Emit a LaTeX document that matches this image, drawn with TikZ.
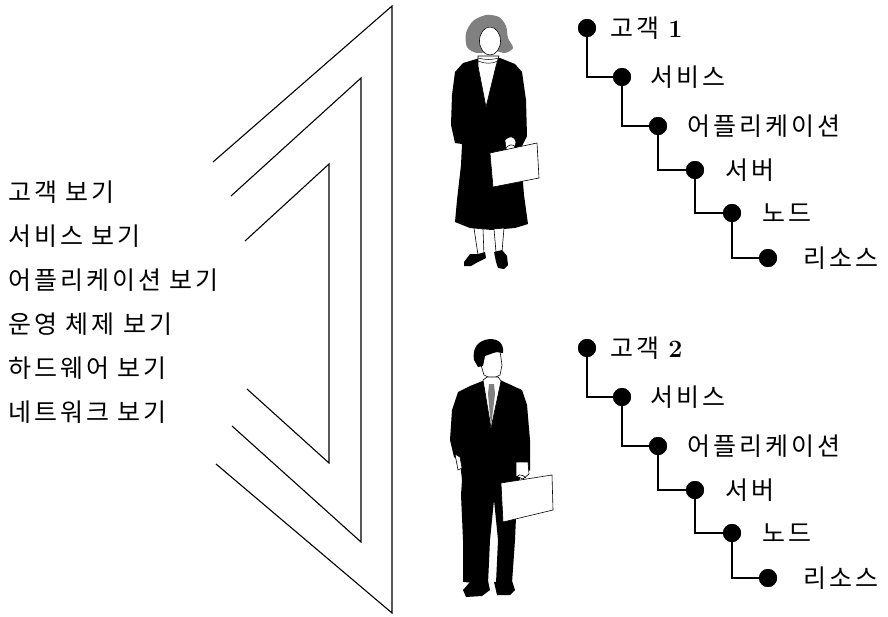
\documentclass[tikz,border=0pt]{standalone}
\usepackage{fontspec}
\newfontfamily\krfont[LetterSpace=12]{Noto Sans CJK KR}
\begin{document}
\begin{tikzpicture}[x=1pt,y=-1pt,
  viewlabel/.style={anchor=west,inner sep=0pt,font=\krfont\fontsize{25}{25}\selectfont},
  treedot/.style={circle,fill=black,minimum size=18pt,inner sep=0pt},
  treelabel/.style={anchor=west,inner sep=0pt,font=\krfont\fontsize{25}{25}\selectfont},
  treelink/.style={line width=2.6pt},
  frameline/.style={line width=1.1pt,line join=miter},
  outline/.style={draw=black,line width=0.6pt,fill=white},
  hairgray/.style={fill=black!50},
]
\useasboundingbox (0,0) rectangle (888,616);

% nested view brackets
\draw[frameline] (213,162) -- (392,6) -- (392,613) -- (216,464);
\draw[frameline] (231,196) -- (361,78) -- (361,542) -- (232,426);
\draw[frameline] (245,241) -- (329,164) -- (329,463) -- (247,389);

% view labels
\node[viewlabel] (v1) at (8,192) {고객 보기};
\node[viewlabel] (v2) at (8,236) {서비스 보기};
\node[viewlabel] (v3) at (8,280) {어플리케이션 보기};
\node[viewlabel] (v4) at (8,324) {운영 체제 보기};
\node[viewlabel] (v5) at (8,368) {하드웨어 보기};
\node[viewlabel] (v6) at (8,412) {네트워크 보기};

% customer trees
\foreach \t/\dy/\num in {a/0/1, b/320/2} {
  \node[treedot] (\t1) at (587,28+\dy) {};
  \node[treedot] (\t2) at (622,77+\dy) {};
  \node[treedot] (\t3) at (658,126+\dy) {};
  \node[treedot] (\t4) at (695,170+\dy) {};
  \node[treedot] (\t5) at (732,213+\dy) {};
  \node[treedot] (\t6) at (768,258+\dy) {};
  \draw[treelink] (\t1.center) |- (\t2.center);
  \draw[treelink] (\t2.center) |- (\t3.center);
  \draw[treelink] (\t3.center) |- (\t4.center);
  \draw[treelink] (\t4.center) |- (\t5.center);
  \draw[treelink] (\t5.center) |- (\t6.center);
  \node[treedot] at (\t1) {};
  \node[treedot] at (\t2) {};
  \node[treedot] at (\t3) {};
  \node[treedot] at (\t4) {};
  \node[treedot] at (\t5) {};
  \node[treedot] at (\t6) {};
  \node[treelabel] (\t1l) at (610,28+\dy) {고객\hspace{0.25em}\textbf{\fontspec{Latin Modern Roman}\num}};
  \node[treelabel] (\t2l) at (650,77+\dy) {서비스};
  \node[treelabel] (\t3l) at (687,126+\dy) {어플리케이션};
  \node[treelabel] (\t4l) at (725,170+\dy) {서버};
  \node[treelabel] (\t5l) at (762,213+\dy) {노드};
  \node[treelabel] (\t6l) at (803,258+\dy) {리소스};
}

% woman with briefcase
\fill[hairgray] plot[smooth cycle] coordinates {(467,47) (466,33) (473,21) (486,15) (499,17) (506,26) (508,38) (513,48) (505,53) (495,51) (477,53)};
\draw[outline] (490,41) ellipse [x radius=10.5, y radius=14];
\fill[hairgray] (479,24) .. controls (486,17) and (498,19) .. (501,30) .. controls (494,26) and (486,26) .. (479,31) -- cycle;
\fill (480,58) -- (463,63) -- (455,72) -- (452,95) -- (451,125) -- (455,143) -- (462,144)
  -- (461,165) -- (457,200) -- (455,222) -- (470,228) -- (492,230) -- (515,228) -- (528,224)
  -- (524,195) -- (522,170) -- (520,150) -- (527,136) -- (526,100) -- (522,72) -- (515,64)
  -- (500,58) -- cycle;
\draw[outline] (478,56) -- (499,56) -- (496,66) -- (486,107) -- (478,66) -- cycle;
\draw[line width=0.5pt] (478,61) .. controls (485,64) and (492,64) .. (498,61);
\draw[line width=0.5pt] (478,58) .. controls (485,60) and (492,60) .. (499,58);
\draw[outline] (505,140) .. controls (509,135) and (515,136) .. (516,142) -- (514,150) -- (506,151) -- cycle;
\draw[outline] (490,153) -- (537,143) -- (539,178) -- (493,187) -- cycle;
\draw[line width=0.6pt] (505,150) .. controls (507,144) and (514,143) .. (516,148);
\draw[outline] (474,228) -- (478,255) -- (484,255) -- (483,229) -- cycle;
\draw[outline] (494,229) -- (496,252) -- (502,252) -- (504,228) -- cycle;
\fill (464,262) -- (470,254) -- (478,254) -- (485,252) -- (486,258) -- (478,262) -- (471,266) -- (464,266) -- cycle;
\fill (494,252) -- (502,250) -- (507,256) -- (508,265) -- (504,269) -- (498,268) -- (496,262) -- cycle;

% man with briefcase
\draw[outline] (481,355) -- (500,351) -- (502,365) -- (500,375) -- (492,379) -- (484,375) -- (481,365) -- cycle;
\fill (474,360) .. controls (472,348) and (478,340) .. (490,339) .. controls (499,339) and (504,344) .. (503,353)
  -- (496,352) -- (485,356) -- (483,366) -- (478,367) -- cycle;
\fill (485,380) -- (470,386) -- (458,392) -- (452,410) -- (450,440) -- (454,457) -- (460,462)
  -- (462,480) -- (461,495) -- (463,540) -- (463,582) -- (488,584) -- (490,540) -- (494,500)
  -- (498,540) -- (496,583) -- (512,583) -- (515,540) -- (517,495) -- (520,478) -- (530,470)
  -- (530,440) -- (527,405) -- (522,390) -- (500,380) -- cycle;
\draw[outline] (483,380) -- (487,377) -- (498,377) -- (501,381) -- (491,428) -- cycle;
\fill[hairgray] (489,384) -- (494,384) -- (495,394) -- (491,427) -- (488,394) -- cycle;
\draw[outline] (455,454) -- (460,457) -- (462,468) -- (458,470) -- cycle;
\draw[outline] (516,462) -- (528,462) -- (529,474) -- (523,479) -- (516,476) -- cycle;
\draw[outline] (501,483) -- (552,475) -- (553,510) -- (503,522) -- cycle;
\draw[line width=0.6pt] (515,481) .. controls (516,474) and (522,473) .. (526,478);
\fill (463,590) -- (470,582) -- (488,581) -- (490,590) -- (482,596) -- (466,597) -- cycle;
\fill (494,582) -- (512,581) -- (515,590) -- (510,595) -- (497,595) -- cycle;
\end{tikzpicture}
\end{document}
